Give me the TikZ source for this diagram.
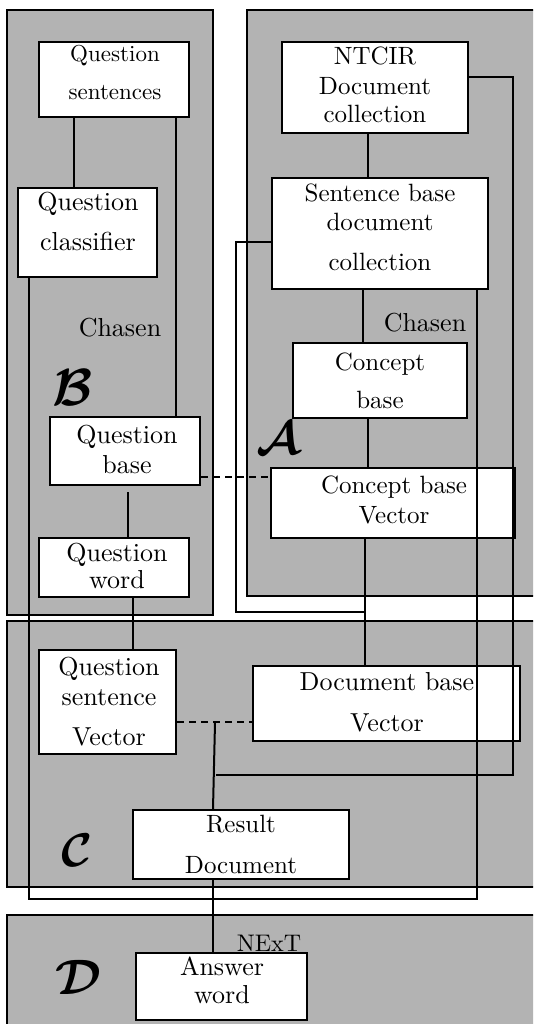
\documentclass[tikz,border=0pt]{standalone}
\usepackage{amsmath}
\usepackage{bm}
\usepackage{fontspec}
\newfontfamily\lmten{lmroman10-regular.otf}
\definecolor{panelgrey}{RGB}{179,179,179}
\tikzset{
  panel/.style={fill=panelgrey, draw=black, line width=2pt},
  box/.style={draw=black, fill=white, line width=2pt, inner sep=0pt},
  txt/.style={anchor=base, align=center, inner sep=0pt, font=\lmten\fontsize{26}{28}\selectfont},
  txtsm/.style={txt, font=\lmten\fontsize{25}{28}\selectfont},
  link/.style={line width=2pt},
  dlink/.style={link, dash pattern=on 7pt off 5pt},
  letter/.style={inner sep=0pt, font=\Huge}
}
\begin{document}
\begin{tikzpicture}[x=1pt,y=-1pt]
\useasboundingbox (0,0) rectangle (533,1024);
\clip (0,0) rectangle (533,1024);
\fill[white] (0,0) rectangle (533,1024);

% stage panels
\path[panel] (7,10) rectangle (213,615);
\path[panel] (247,10) rectangle (545,596);
\path[panel] (7,621) rectangle (545,887);
\path[panel] (7,915) rectangle (545,1040);

% processing boxes
\node[box, minimum width=150pt, minimum height=75pt]  (qs)    at (114,79.5)  {};
\node[box, minimum width=139pt, minimum height=89pt]  (qc)    at (87.5,232.5) {};
\node[box, minimum width=150pt, minimum height=68pt]  (qb)    at (125,451)   {};
\node[box, minimum width=150pt, minimum height=59pt]  (qw)    at (114,567.5) {};
\node[box, minimum width=186pt, minimum height=91pt]  (ntcir) at (375,87.5)  {};
\node[box, minimum width=216pt, minimum height=111pt] (sb)    at (380,233.5) {};
\node[box, minimum width=174pt, minimum height=75pt]  (cb)    at (380,380.5) {};
\node[box, minimum width=244pt, minimum height=70pt]  (cbv)   at (393,503)   {};
\node[box, minimum width=137pt, minimum height=104pt] (qsv)   at (107.5,702) {};
\node[box, minimum width=267pt, minimum height=75pt]  (dbv)   at (386.5,703.5) {};
\node[box, minimum width=216pt, minimum height=69pt]  (rd)    at (241,844.5) {};
\node[box, minimum width=171pt, minimum height=67pt]  (aw)    at (221.5,986.5) {};

% box captions (anchored on the baseline of the last line)
\node[txt, font=\lmten\fontsize{23}{25}\selectfont] (qs-t) at (115,100) {Question\\[13pt]sentences};
\node[txt]   (qc-t)    at (88,251)   {Question\\[12pt]classifier};
\node[txt]   (qb-t)    at (127,473)  {Question\\[2pt]base};
\node[txt]   (qw-t)    at (117,588)  {Question\\[-1pt]word};
\node[txtsm] (ntcir-t) at (375,123)  {NTCIR\\[2pt]Document\\collection};
\node[txtsm] (sb-t)    at (380,270)  {Sentence base\\[1pt]document\\[12pt]collection};
\node[txtsm] (cb-t)    at (380,408)  {Concept\\[10pt]base};
\node[txtsm] (cbv-t)   at (394,523)  {Concept base\\[2pt]Vector};
\node[txt]   (qsv-t)   at (109,745)  {Question\\[2pt]sentence\\[12pt]Vector};
\node[txt]   (dbv-t)   at (387,731)  {Document base\\[13pt]Vector};
\node[txtsm] (rd-t)    at (241,873)  {Result\\[13pt]Document};
\node[txt]   (aw-t)    at (222,1003) {Answer\\word};

% tool labels
\node[txt]   (chasenB) at (120,336) {Chasen};
\node[txt]   (chasenA) at (425,331) {Chasen};
\node[txtsm, font=\lmten\fontsize{24}{26}\selectfont] (next) at (269,951) {NExT};

% stage letters
\node[letter] (lB) at (73,388) {\scalebox{2.1}{$\boldsymbol{\mathcal{B}}$}};
\node[letter] (lA) at (278,438) {\scalebox{1.9}{$\boldsymbol{\mathcal{A}}$}};
\node[letter] (lC) at (77,850)  {\scalebox{1.9}{$\boldsymbol{\mathcal{C}}$}};
\node[letter] (lD) at (78,977)  {\scalebox{2.0}{$\boldsymbol{\mathcal{D}}$}};

% junction on the vector comparison line
\coordinate (jn) at (215,723);

% connectors
\draw[link] ([xshift=-40pt]qs.south) -- ([xshift=-13.5pt]qc.north);
\draw[link] ([xshift=62pt]qs.south) -- ([xshift=51pt]qb.north);
\draw[link] ([xshift=-58.5pt]qc.south) -- ++(0,621) -- ++(448,0) -- ([xshift=97pt]sb.south);
\draw[link, shorten <=6pt] ([xshift=3pt]qb.south) -- ([xshift=14pt]qw.north);
\draw[link] ([xshift=19pt]qw.south) -- ([xshift=25.5pt]qsv.north);
\draw[dlink] ([yshift=-26pt]qb.east) -- ([yshift=26pt]cbv.west);
\draw[dlink] ([yshift=-20pt]qsv.east) -- ([yshift=-18.5pt]dbv.west);
\draw[link] ([xshift=-7pt]ntcir.south) -- ([xshift=-12pt]sb.north);
\draw[link] ([yshift=10.5pt]ntcir.east) -- ++(44,0) -- ++(0,698) -- ++(-297,0);
\draw[link] ([yshift=-8.5pt]sb.west) -- ++(-35,0) -- ++(0,370) -- ++(128,0);
\draw[link] ([xshift=-17pt]sb.south) -- ([xshift=-17pt]cb.north);
\draw[link] ([xshift=-12pt]cb.south) -- ([xshift=-25pt]cbv.north);
\draw[link] ([xshift=-28pt]cbv.south) -- ([xshift=-21.5pt]dbv.north);
\draw[link] (jn) -- ([xshift=-28pt]rd.north);
\draw[link] ([xshift=-28pt]rd.south) -- ([xshift=-8.5pt]aw.north);
\end{tikzpicture}
\end{document}
